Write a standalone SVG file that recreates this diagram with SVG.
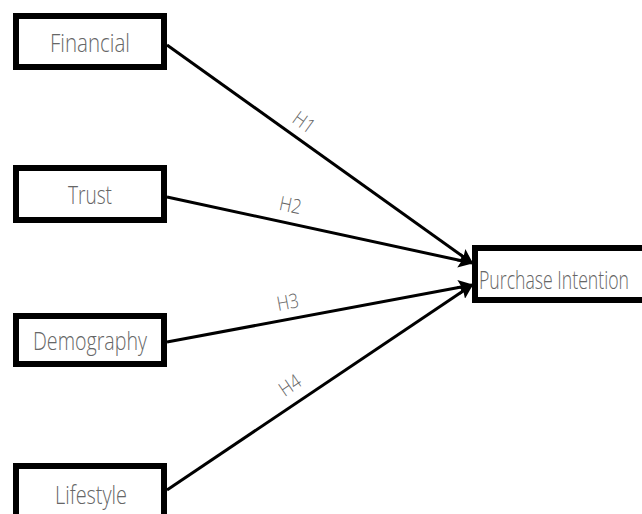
<svg xmlns="http://www.w3.org/2000/svg" width="642" height="514" viewBox="0 0 642 514">
<defs>
<style>
.box{fill:#fff;stroke:#000;stroke-width:6}
.lbl{font-family:"Open Sans","DejaVu Sans",sans-serif;font-size:26px;fill:#666;text-anchor:middle;font-weight:300}
.h{font-family:"Open Sans","DejaVu Sans",sans-serif;font-size:20px;fill:#666;text-anchor:middle;font-weight:300}
.edge{stroke:#000;stroke-width:3;fill:none;marker-end:url(#arr)}
</style>
<marker id="arr" viewBox="0 0 10 10" refX="9" refY="5" markerWidth="5" markerHeight="5" orient="auto" markerUnits="strokeWidth">
<path d="M0,0 L10,5 L0,10 L2,5 Z" fill="#000"/>
</marker>
</defs>
<rect width="642" height="514" fill="#fff"/>
<g id="connectors">
<line class="edge" x1="167" y1="45" x2="472" y2="263"/>
<line class="edge" x1="167" y1="197" x2="472" y2="263"/>
<line class="edge" x1="167" y1="342" x2="472" y2="285"/>
<line class="edge" x1="167" y1="490" x2="472" y2="285"/>
<text class="h" transform="translate(300,128) rotate(35.6)" textLength="22" lengthAdjust="spacingAndGlyphs">H1</text>
<text class="h" transform="translate(289,212) rotate(12)" textLength="22" lengthAdjust="spacingAndGlyphs">H2</text>
<text class="h" transform="translate(289,309) rotate(-10.6)" textLength="22" lengthAdjust="spacingAndGlyphs">H3</text>
<text class="h" transform="translate(294,391) rotate(-33.9)" textLength="22" lengthAdjust="spacingAndGlyphs">H4</text>
</g>
<g id="financial">
<rect class="box" x="16" y="16" width="148" height="51"/>
<text class="lbl" x="90" y="52" textLength="80" lengthAdjust="spacingAndGlyphs">Financial</text>
</g>
<g id="trust">
<rect class="box" x="16" y="168" width="148" height="52"/>
<text class="lbl" x="90" y="204" textLength="44" lengthAdjust="spacingAndGlyphs">Trust</text>
</g>
<g id="demography">
<rect class="box" x="16" y="316" width="148" height="48"/>
<text class="lbl" x="90" y="350" textLength="114" lengthAdjust="spacingAndGlyphs">Demography</text>
</g>
<g id="lifestyle">
<rect class="box" x="16" y="466" width="148" height="54"/>
<text class="lbl" x="91" y="504" textLength="72" lengthAdjust="spacingAndGlyphs">Lifestyle</text>
</g>
<g id="purchase-intention">
<rect class="box" x="475" y="248" width="180" height="52"/>
<text class="lbl" transform="translate(479,289) scale(0.68,1)" style="text-anchor:start">Purchase Intention</text>
</g>
</svg>
